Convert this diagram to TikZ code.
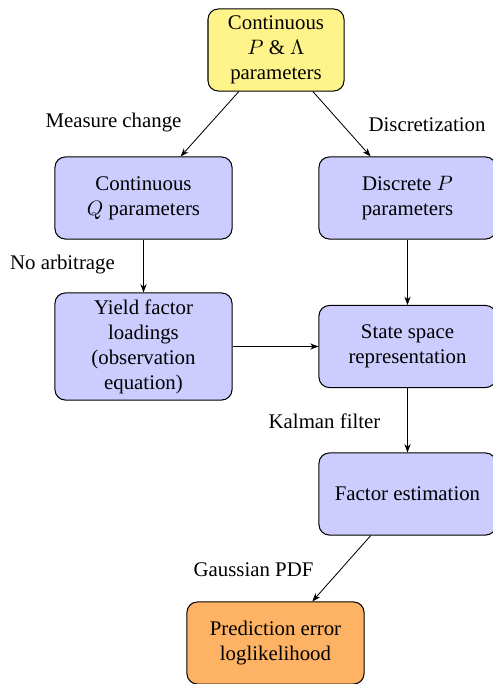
\documentclass[tikz,border=0pt]{standalone}
\usepackage{fontspec}
\setmainfont{Liberation Serif}
\usetikzlibrary{arrows.meta}
\definecolor{boxyellow}{RGB}{255,244,138}
\definecolor{boxblue}{RGB}{204,204,255}
\definecolor{boxorange}{RGB}{253,178,100}
\begin{document}
\begin{tikzpicture}[x=0.48pt,y=-0.48pt,
  box/.style={draw=black, rounded corners=5pt, align=center, minimum width=85pt,
    minimum height=39.4pt, inner sep=2pt, line width=0.5pt},
  arr/.style={-{Stealth[length=4pt,width=3pt]}, line width=0.4pt},
  lbl/.style={inner sep=0pt, anchor=center}]
\useasboundingbox (0,0) rectangle (493,684);
\node[box, fill=boxyellow, minimum width=65.3pt] (top) at (276,50) {Continuous\\$P$ \& $\Lambda$\\parameters};
\node[box, fill=boxblue] (cq) at (143.5,198) {Continuous\\$Q$ parameters};
\node[box, fill=boxblue] (dp) at (407.5,198) {Discrete $P$\\parameters};
\node[box, fill=boxblue, minimum height=51.4pt] (yf) at (143.5,346.5) {Yield factor\\loadings\\(observation\\equation)};
\node[box, fill=boxblue] (ss) at (407.5,346.5) {State space\\representation};
\node[box, fill=boxblue] (fe) at (407.5,494) {Factor estimation};
\node[box, fill=boxorange] (pe) at (275.5,643) {Prediction error\\loglikelihood};

\node[lbl] (l1) at (113.5,123) {Measure change};
\node[lbl] (l2) at (427,125) {Discretization};
\node[lbl] (l3) at (62.5,265) {No arbitrage};
\node[lbl] (l4) at (324.5,421) {Kalman filter};
\node[lbl] (l5) at (253.5,570) {Gaussian PDF};

\draw[arr] (top) -- (cq);
\draw[arr] (top) -- (dp);
\draw[arr] (cq) -- (yf);
\draw[arr] (dp) -- (ss);
\draw[arr] (yf) -- (ss);
\draw[arr] (ss) -- (fe);
\draw[arr] (fe) -- (pe);
\end{tikzpicture}
\end{document}
